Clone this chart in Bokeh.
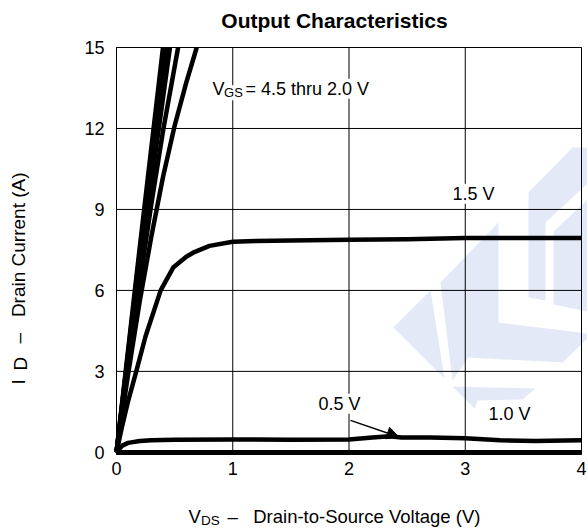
import numpy as np
from bokeh.plotting import figure
from bokeh.models import Label, Arrow, NormalHead, FixedTicker, Range1d, BoxAnnotation
from bokeh.embed import file_html
from bokeh.resources import INLINE

# ---- data ----
vgs_45_v = [0, 0.1, 0.2, 0.3, 0.40]
vgs_45_i = [0, 3.8, 7.6, 11.3, 15.0]
vgs_40_v = [0, 0.1, 0.2, 0.3, 0.41]
vgs_40_i = [0, 3.7, 7.4, 11.0, 15.0]
vgs_35_v = [0, 0.1, 0.2, 0.3, 0.43]
vgs_35_i = [0, 3.6, 7.1, 10.6, 15.0]
vgs_30_v = [0, 0.1, 0.2, 0.3, 0.46]
vgs_30_i = [0, 3.4, 6.8, 10.0, 15.0]
vgs_25_v = [0, 0.1, 0.2, 0.3, 0.4, 0.53]
vgs_25_i = [0, 3.2, 6.3, 9.2, 11.9, 15.0]
vgs_20_v = [0, 0.1, 0.2, 0.3, 0.4, 0.5, 0.6, 0.69]
vgs_20_i = [0, 2.9, 5.6, 8.0, 10.2, 12.1, 13.7, 15.0]
vgs_15_v = [0, 0.05, 0.1, 0.17, 0.25, 0.38, 0.49, 0.6, 0.67, 0.8, 1.0, 1.2, 1.5, 2.0, 2.5, 3.0, 3.5, 4.0]
vgs_15_i = [0, 1.0, 1.9, 3.0, 4.3, 6.0, 6.86, 7.25, 7.42, 7.65, 7.8, 7.83, 7.85, 7.88, 7.9, 7.94, 7.94, 7.94]
vgs_10_v = [0, 0.05, 0.1, 0.2, 0.3, 0.5, 1.0, 1.5, 2.0, 2.2, 2.35, 2.45, 2.7, 3.0, 3.3, 3.6, 4.0]
vgs_10_i = [0, 0.25, 0.35, 0.42, 0.45, 0.47, 0.48, 0.47, 0.48, 0.55, 0.6, 0.55, 0.55, 0.52, 0.45, 0.42, 0.45]
vgs_05_v = [0, 1, 2, 3, 4]
vgs_05_i = [0, 0, 0, 0, 0]

x_ticks = [0, 1, 2, 3, 4]
y_ticks = [0, 3, 6, 9, 12, 15]
X_MIN, X_MAX = 0, 4
Y_MIN, Y_MAX = -0.08, 15

FONT = "Liberation Sans"

# frame covers the whole canvas; plot area is 116..581 px wide, 47..454 px high
PXX = 116.25
PXY = 26.99
p = figure(width=587, height=530, output_backend="svg", toolbar_location=None,
           x_range=Range1d(-116 / PXX, X_MAX + 6 / PXX),
           y_range=Range1d(-(530 - 451.85) / PXY, 451.85 / PXY),
           min_border=0)
p.outline_line_color = None
p.background_fill_color = "white"
p.border_fill_color = "white"
p.xgrid.visible = False
p.ygrid.visible = False

# ---- watermark (decorative, pixel polygons converted to data) ----
def wx(px):
    return (px - 116) / PXX
def wy(py):
    return (451.85 - py) / PXY
wm_polys = [
    [(393, 327), (430, 290), (444, 378)],
    [(498, 222), (440, 282), (452, 380), (468, 357), (562, 362), (587, 338), (587, 333), (498, 322)],
    [(572, 147), (587, 147), (587, 183), (545, 222), (545, 300), (528, 297), (528, 192)],
    [(553, 231), (587, 199), (587, 311), (553, 304)],
    [(452, 386), (535, 388), (522, 399), (477, 400), (474, 408)],
]
p.patches([[wx(a) for a, b in poly] for poly in wm_polys],
          [[wy(b) for a, b in poly] for poly in wm_polys],
          fill_color="#e3e9f6", line_color=None, level="image")

# grid lines at the tick positions, limited to the plot area
p.segment(x0=x_ticks, y0=[Y_MIN] * len(x_ticks), x1=x_ticks, y1=[Y_MAX] * len(x_ticks),
          line_color="black", line_width=1, level="underlay")
p.segment(x0=[X_MIN] * len(y_ticks), y0=y_ticks, x1=[X_MAX] * len(y_ticks), y1=y_ticks,
          line_color="black", line_width=1, level="underlay")
p.add_layout(BoxAnnotation(left=X_MIN, right=X_MAX, bottom=Y_MIN, top=Y_MAX,
                           fill_color=None, line_color="black", line_width=1))

# axes drawn along the plot area's edges
p.xaxis.fixed_location = Y_MIN
p.yaxis.fixed_location = X_MIN
p.xaxis.bounds = (X_MIN, X_MAX)
p.yaxis.bounds = (Y_MIN, Y_MAX)
p.xaxis.ticker = FixedTicker(ticks=x_ticks)
p.yaxis.ticker = FixedTicker(ticks=y_ticks)
for ax in (p.xaxis, p.yaxis):
    ax.major_tick_in = 0
    ax.major_tick_out = 0
    ax.minor_tick_in = 0
    ax.minor_tick_out = 0
    ax.axis_line_color = "black"
    ax.major_label_text_font = FONT
    ax.major_label_text_font_size = "18px"
    ax.major_label_text_color = "black"
p.xaxis.major_label_standoff = 7
p.yaxis.major_label_standoff = 12

curves = [(vgs_45_v, vgs_45_i), (vgs_40_v, vgs_40_i), (vgs_35_v, vgs_35_i),
          (vgs_30_v, vgs_30_i), (vgs_25_v, vgs_25_i), (vgs_20_v, vgs_20_i),
          (vgs_15_v, vgs_15_i), (vgs_10_v, vgs_10_i), (vgs_05_v, vgs_05_i)]
for xs, ys in curves:
    p.line(xs, ys, line_color="black", line_width=4.5, line_join="round", line_cap="butt")

def lab(x, y, text, size="18px", xo=0, yo=0, bold=False, bg=True, align="left",
        angle=0, units="data"):
    l = Label(x=x, y=y, x_offset=xo, y_offset=yo, text=text, text_font=FONT,
              x_units=units, y_units=units,
              text_font_size=size, text_color="black", text_baseline="alphabetic",
              text_align=align, angle=angle,
              text_font_style="bold" if bold else "normal",
              background_fill_color="white" if bg else None)
    p.add_layout(l)

NB = "\u00a0"
# title (screen units: pixels from the canvas' lower-left corner)
lab(334, 510, "Output Characteristics", size="21px", bold=True, bg=False, align="center", units="screen")
# curve labels
lab(0.826, 13.47, "V")
lab(0.826, 13.32, "GS", size="13px", xo=11.5)
lab(0.826, 13.47, "=" + NB + "4.5 thru 2.0 V", xo=33)
lab(2.89, 9.58, "1.5 V")
lab(1.738, 1.80, "0.5 V")
lab(3.2, 1.43, "1.0 V")
p.add_layout(Arrow(end=NormalHead(size=12, fill_color="black", line_color="black"),
                   x_start=2.013, y_start=1.185, x_end=2.43, y_end=0.57,
                   line_color="black", line_width=1.5))
# x axis title
lab(188, 14.5, "V", size="18.5px", bg=False, units="screen")
lab(200.5, 10.5, "DS", size="13.5px", bg=False, units="screen")
lab(227, 14.5, "\u2013" + NB + NB + NB + "Drain-to-Source Voltage (V)", size="18.5px",
    bg=False, units="screen")
# y axis title (rotated)
lab(18, 146, "I", size="19px", bg=False, angle=np.pi / 2, units="screen")
lab(20, 160, "D", size="19px", bg=False, angle=np.pi / 2, units="screen")
lab(18, 187, "\u2013" + NB + NB + NB + "Drain Current (A)", size="19px", bg=False,
    angle=np.pi / 2, units="screen")

open("out.html", "w").write(file_html(p, INLINE))
